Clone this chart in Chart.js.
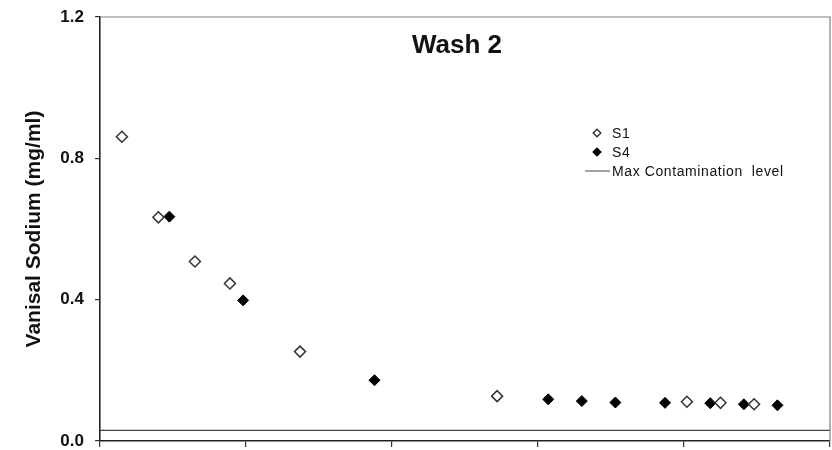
<!DOCTYPE html>
<html>
<head>
<meta charset="utf-8">
<title>Wash 2</title>
<script src="https://cdn.jsdelivr.net/npm/chart.js@4.4.1/dist/chart.umd.min.js"></script>
<style>
  body { margin: 0; background: #fff; }
  #chart { display: block; }
</style>
</head>
<body>
<canvas id="chart" width="832" height="450"></canvas>
<script>
// Data (x axis has no labels, ticks at 0..5)
const s1X = [0.15, 0.40, 0.65, 0.89, 1.37, 2.72, 4.02, 4.25, 4.48];
const s1Y = [0.861, 0.633, 0.508, 0.446, 0.253, 0.127, 0.111, 0.108, 0.104];
const s4X = [0.475, 0.98, 1.88, 3.07, 3.30, 3.53, 3.87, 4.18, 4.41, 4.64];
const s4Y = [0.635, 0.398, 0.172, 0.118, 0.113, 0.109, 0.108, 0.107, 0.104, 0.101];
const mclX = [0, 5];
const mclY = [0.03, 0.03];
const yTicks = [0, 0.4, 0.8, 1.2];

const FONT = '"Liberation Sans", Arial, sans-serif';

function toPoints(xs, ys) {
  return xs.map((x, i) => ({ x: x, y: ys[i] }));
}

// no extra room for half-labels, the layout padding handles it
function noScalePadding(scale) {
  scale.paddingTop = 0;
  scale.paddingBottom = 0;
  scale.paddingLeft = 0;
  scale.paddingRight = 0;
}

// Title and legend sit inside the plot, so draw them ourselves
const insidePlugin = {
  id: 'inside',
  afterDraw(chart) {
    const ctx = chart.ctx;
    const area = chart.chartArea;
    ctx.save();

    // frame: top and right edges
    ctx.strokeStyle = '#808080';
    ctx.lineWidth = 1.2;
    ctx.beginPath();
    ctx.moveTo(area.left, area.top);
    ctx.lineTo(area.right, area.top);
    ctx.lineTo(area.right, area.bottom);
    ctx.stroke();

    // title
    ctx.fillStyle = '#111';
    ctx.font = 'bold 26px ' + FONT;
    ctx.textAlign = 'center';
    ctx.textBaseline = 'middle';
    ctx.fillText('Wash 2', 457, 46);

    // legend
    ctx.font = '14px ' + FONT;
    ctx.letterSpacing = '0.6px';
    ctx.textAlign = 'left';
    const rows = [133, 152, 171];
    chart.data.datasets.forEach((ds, i) => {
      const y = rows[i];
      if (ds.showLine) {
        ctx.strokeStyle = ds.borderColor;
        ctx.lineWidth = 1;
        ctx.beginPath();
        ctx.moveTo(585, y);
        ctx.lineTo(610, y);
        ctx.stroke();
      } else {
        const r = 3.8;
        ctx.beginPath();
        ctx.moveTo(597, y - r);
        ctx.lineTo(597 + r, y);
        ctx.lineTo(597, y + r);
        ctx.lineTo(597 - r, y);
        ctx.closePath();
        ctx.fillStyle = ds.pointBackgroundColor;
        ctx.fill();
        ctx.strokeStyle = ds.pointBorderColor;
        ctx.lineWidth = 1.4;
        ctx.stroke();
      }
      ctx.fillStyle = '#111';
      ctx.fillText(ds.label, 612, y + 1);
    });
    ctx.restore();
  }
};

const ctx = document.getElementById('chart').getContext('2d');
const washChart = new Chart(ctx, {
  type: 'scatter',
  data: {
    datasets: [{
      label: 'S1',
      data: toPoints(s1X, s1Y),
      pointStyle: 'rectRot',
      pointRadius: 5.5,
      pointBorderWidth: 1.5,
      pointBackgroundColor: '#ffffff',
      pointBorderColor: '#333333',
    }, {
      label: 'S4',
      data: toPoints(s4X, s4Y),
      pointStyle: 'rectRot',
      pointRadius: 5.5,
      pointBorderWidth: 1,
      pointBackgroundColor: '#000000',
      pointBorderColor: '#000000',
    }, {
      label: 'Max Contamination  level',
      data: toPoints(mclX, mclY),
      showLine: true,
      pointRadius: 0,
      borderColor: '#444444',
      borderWidth: 1.2,
    }]
  },
  options: {
    responsive: false,
    animation: false,
    layout: { autoPadding: false, padding: { top: 17, right: 2, bottom: 3, left: 0 } },
    plugins: {
      legend: { display: false },
      tooltip: { enabled: false },
    },
    scales: {
      x: {
        type: 'linear',
        min: 0,
        max: 5,
        afterFit: noScalePadding,
        ticks: { stepSize: 1, display: false },
        grid: { drawOnChartArea: false, tickLength: 6, color: '#333', lineWidth: 1.2 },
        border: { color: '#222', width: 1.6 },
      },
      y: {
        min: 0,
        max: 1.2,
        afterBuildTicks: (scale) => {
          scale.ticks = yTicks.map(v => ({ value: v }));
        },
        afterFit: (scale) => {
          noScalePadding(scale);
          scale.width = 100;
        },
        ticks: {
          padding: 11,
          color: '#111',
          font: { family: FONT, size: 17, weight: 'bold' },
          callback: (v) => Number(v).toFixed(1),
        },
        grid: { drawOnChartArea: false, tickLength: 5, color: '#333', lineWidth: 1.2 },
        border: { color: '#222', width: 1.6 },
        title: {
          display: true,
          text: 'Vanisal Sodium (mg/ml)',
          color: '#111',
          font: { family: FONT, size: 21, weight: 'bold' },
          padding: { top: 22, bottom: 0 },
        },
      },
    },
  },
  plugins: [insidePlugin],
});
</script>
</body>
</html>
